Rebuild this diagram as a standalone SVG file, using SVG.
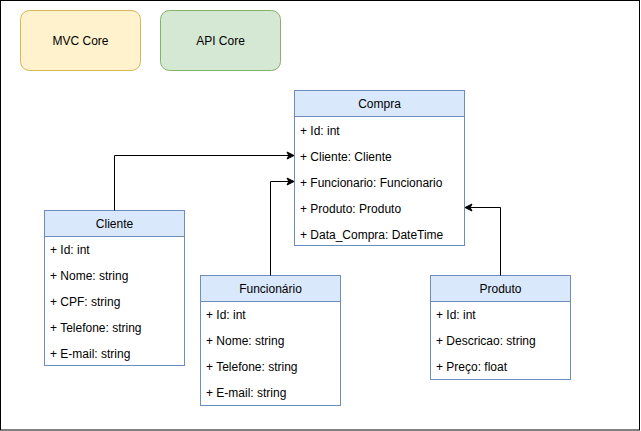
<svg xmlns="http://www.w3.org/2000/svg" width="641" height="431" viewBox="0 0 641 431">
<style>
text{font-family:"Liberation Sans",Arial,sans-serif;font-size:12px;fill:#000}
.c{text-anchor:middle}
.cls{fill:#ffffff;stroke:#6c8ebf;stroke-width:1}
.hdr{fill:#dae8fc;stroke:#6c8ebf;stroke-width:1}
.edge{fill:none;stroke:#000;stroke-width:1}
</style>
<defs>
<marker id="arr" markerWidth="10" markerHeight="10" refX="8" refY="5" orient="auto" markerUnits="userSpaceOnUse">
<path d="M1,1.5 L8,5 L1,8.5 L2.8,5 Z" fill="#000" stroke="#000" stroke-width="1"/>
</marker>
</defs>
<rect x="0.5" y="0.5" width="639" height="429.5" fill="#ffffff" stroke="#000" stroke-width="1"/>
<g id="mvc-core">
<rect x="20.5" y="10.5" width="120" height="60" rx="9" fill="#fff2cc" stroke="#d6b656"/>
<text class="c" x="80.5" y="45">MVC Core</text>
</g>
<g id="api-core">
<rect x="160.5" y="10.5" width="120" height="60" rx="9" fill="#d5e8d4" stroke="#82b366"/>
<text class="c" x="220.5" y="45">API Core</text>
</g>
<g id="compra">
<rect class="cls" x="294.5" y="90.5" width="170" height="155"/>
<rect class="hdr" x="294.5" y="90.5" width="170" height="26"/>
<text class="c" x="379.5" y="108">Compra</text>
<text x="300" y="134.5">+ Id: int</text>
<text x="300" y="160.5">+ Cliente: Cliente</text>
<text x="300" y="186.5">+ Funcionario: Funcionario</text>
<text x="300" y="212.5">+ Produto: Produto</text>
<text x="300" y="238.5">+ Data_Compra: DateTime</text>
</g>
<g id="cliente">
<rect class="cls" x="44.5" y="210.5" width="140" height="155"/>
<rect class="hdr" x="44.5" y="210.5" width="140" height="26"/>
<text class="c" x="114.5" y="228">Cliente</text>
<text x="50" y="253.5">+ Id: int</text>
<text x="50" y="279.5">+ Nome: string</text>
<text x="50" y="305.5">+ CPF: string</text>
<text x="50" y="331.5">+ Telefone: string</text>
<text x="50" y="357.5">+ E-mail: string</text>
</g>
<g id="funcionario">
<rect class="cls" x="200.5" y="275.5" width="140" height="130"/>
<rect class="hdr" x="200.5" y="275.5" width="140" height="26"/>
<text class="c" x="270.5" y="293">Funcionário</text>
<text x="206" y="318.5">+ Id: int</text>
<text x="206" y="344.5">+ Nome: string</text>
<text x="206" y="370.5">+ Telefone: string</text>
<text x="206" y="396.5">+ E-mail: string</text>
</g>
<g id="produto">
<rect class="cls" x="430.5" y="275.5" width="140" height="104"/>
<rect class="hdr" x="430.5" y="275.5" width="140" height="26"/>
<text class="c" x="500.5" y="293">Produto</text>
<text x="436" y="318.5">+ Id: int</text>
<text x="436" y="344.5">+ Descricao: string</text>
<text x="436" y="370.5">+ Preço: float</text>
</g>
<g id="connectors">
<path class="edge" d="M114.5,210.5 V155.5 H294" marker-end="url(#arr)"/>
<path class="edge" d="M270.5,275.5 V181.5 H294" marker-end="url(#arr)"/>
<path class="edge" d="M500.5,275.5 V207.5 H465" marker-end="url(#arr)"/>
</g>
</svg>
